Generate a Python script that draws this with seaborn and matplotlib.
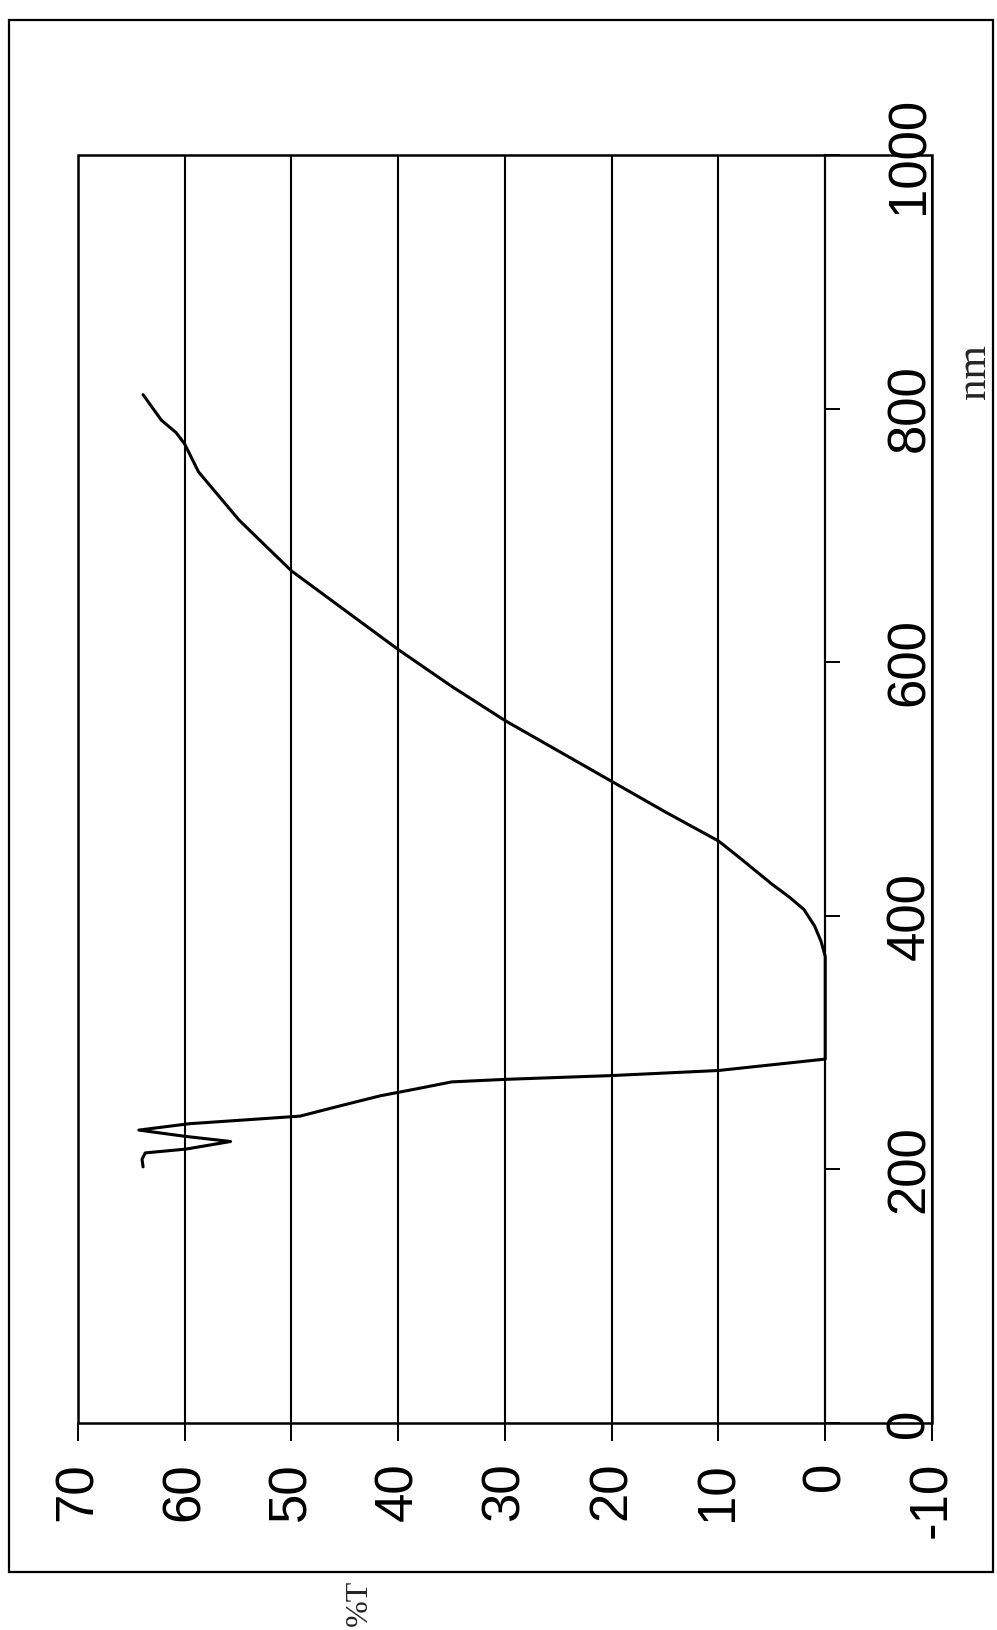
import matplotlib
matplotlib.use('Agg')
import numpy as np
import pandas as pd
import seaborn as sns
import matplotlib.pyplot as plt
from matplotlib import font_manager
from matplotlib.patches import Rectangle

# spectrum trace (page is rotated: nm runs up, %T runs right-to-left)
wavelength_nm = [202, 208, 213, 216, 222, 226, 231, 236, 242, 250, 258, 264,
                 269, 271, 274, 278, 287, 368, 380, 392, 405, 415, 425, 436,
                 447, 459, 482, 506, 530, 554, 581, 610, 641, 672, 712, 740,
                 750, 772, 781, 791, 811]
transmission_pct = [63.9, 64.0, 63.7, 59.9, 55.7, 59.9, 64.3, 59.6, 49.2, 45.5, 41.7, 38.0,
                    35.0, 30.0, 20.0, 10.0, 0.0, 0.0, 0.4, 1.0, 2.0, 3.4, 5.0, 6.6,
                    8.2, 10.0, 15.0, 20.0, 25.0, 30.0, 35.0, 40.0, 45.0, 50.0, 54.9, 57.7,
                    58.7, 60.0, 60.8, 62.2, 63.9]

pct_ticks = [70, 60, 50, 40, 30, 20, 10, 0, -10]
nm_ticks = [0, 200, 400, 600, 800, 1000]

sns.set_style('white')
plt.rcParams['axes.unicode_minus'] = False

names = {f.name for f in font_manager.fontManager.ttflist}
if 'Liberation Sans Narrow' in names:
    num_font, num_size = 'Liberation Sans Narrow', 41
else:
    num_font, num_size = 'Liberation Sans', 38

fig = plt.figure(figsize=(9.97, 16.30), dpi=100)
ax = fig.add_axes([0.0782, 0.1270, 0.8566, 0.7779])

df = pd.DataFrame({'pct': transmission_pct, 'nm': wavelength_nm})
sns.lineplot(data=df, x='pct', y='nm', sort=False, estimator=None,
             color='black', linewidth=2.2, ax=ax)

ax.set_xlim(70, -10)
ax.set_ylim(0, 1000)
ax.set_xlabel('')
ax.set_ylabel('')

# nm axis sits on the 0 %T line
for side in ['left', 'top', 'bottom']:
    ax.spines[side].set_visible(False)
ax.spines['right'].set_position(('data', 0))
ax.spines['right'].set_color('black')
ax.spines['right'].set_linewidth(1.5)
ax.yaxis.tick_right()

ax.set_xticks(pct_ticks)
ax.set_xticklabels([str(v) for v in pct_ticks])
ax.set_yticks(nm_ticks)
ax.set_yticklabels([str(v) for v in nm_ticks])

ax.grid(axis='x', color='black', linewidth=1.5)
ax.grid(axis='y', visible=False)

ax.tick_params(axis='x', bottom=True, direction='out', length=13, width=1.4, pad=15, colors='black')
ax.tick_params(axis='y', right=True, left=False, labelright=True, labelleft=False,
               direction='out', length=11, width=1.4, pad=32, colors='black')

for lab in ax.get_xticklabels():
    lab.set_family(num_font)
    lab.set_fontsize(num_size)
    lab.set_rotation(90)
for lab in ax.get_yticklabels():
    lab.set_family(num_font)
    lab.set_fontsize(num_size)
    lab.set_rotation(90)
    lab.set_verticalalignment('center')
    lab.set_horizontalalignment('left')

ax.add_patch(Rectangle((0, 0), 1, 1, transform=ax.transAxes, fill=False,
                       edgecolor='black', linewidth=1.8, clip_on=False, zorder=5))

fig.add_artist(Rectangle((0.009, 0.0356), 0.987, 0.952, transform=fig.transFigure,
                         fill=False, edgecolor='black', linewidth=1.6))

fig.text(0.360, 0.0166, '%T', rotation=90, ha='center', va='center',
         family='Liberation Serif', fontsize=23)
fig.text(0.978, 0.772, 'nm', rotation=90, ha='center', va='center',
         family='Liberation Serif', fontsize=31)

fig.savefig('out.png', dpi=100)
